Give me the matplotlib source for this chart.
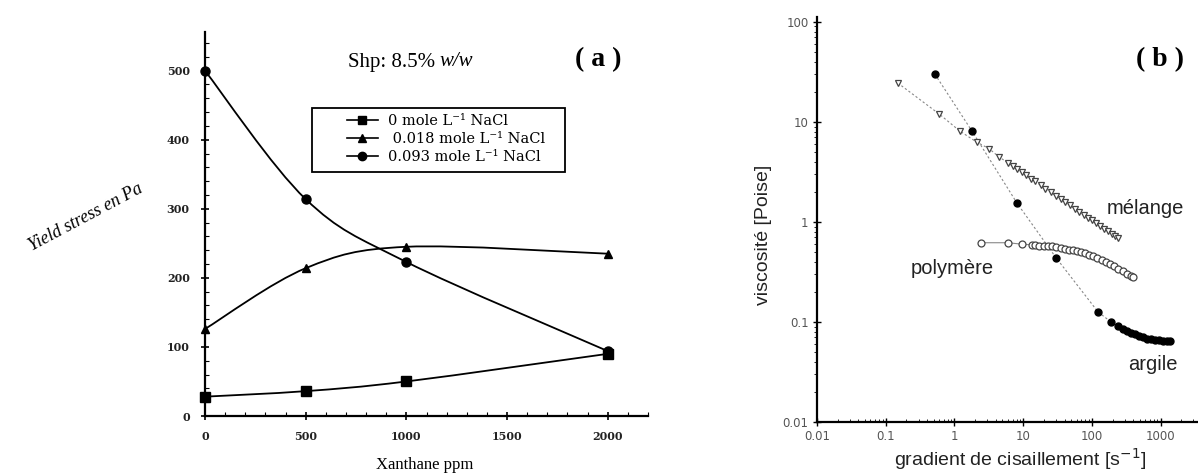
import matplotlib
matplotlib.use("Agg")
import matplotlib.pyplot as plt
import numpy as np
from matplotlib.path import Path
from matplotlib.patches import PathPatch, Rectangle
from matplotlib.lines import Line2D

# ---------------- Panel (a) data ----------------
xanthane = [0, 500, 1000, 2000]
ys_0 = [28, 36, 50, 90]
ys_018 = [126, 214, 245, 235]
ys_093 = [500, 314, 223, 94]
labels_a = ["0 mole L⁻¹ NaCl", " 0.018 mole L⁻¹ NaCl", "0.093 mole L⁻¹ NaCl"]
markers_a = ["s", "^", "o"]

# ---------------- Panel (b) data ----------------
argile_x = [0.52, 1.8, 8.1, 30, 123, 190, 240, 280, 320, 370, 420, 480, 550, 630,
            720, 820, 940, 1070, 1220, 1380]
argile_y = [30, 8.1, 1.55, 0.44, 0.126, 0.10, 0.091, 0.086, 0.082, 0.078, 0.075, 0.072,
            0.070, 0.068, 0.067, 0.066, 0.066, 0.065, 0.065, 0.065]
poly_x = [2.4, 6.0, 9.5, 13.5, 15, 17, 20, 23, 26, 30, 35, 40, 46, 53, 60, 70, 80, 92,
          105, 120, 140, 160, 185, 210, 240, 280, 320, 370, 390]
poly_y = [0.62, 0.62, 0.60, 0.59, 0.59, 0.58, 0.58, 0.57, 0.57, 0.56, 0.55, 0.54, 0.53,
          0.52, 0.51, 0.50, 0.49, 0.47, 0.46, 0.44, 0.42, 0.40, 0.38, 0.36, 0.34, 0.32,
          0.30, 0.285, 0.28]
mel_x = [0.15, 0.6, 1.2, 2.1, 3.2, 4.4, 6.0, 7, 8, 9.5, 11, 13, 15, 18, 21, 25, 30, 35,
         41, 48, 56, 65, 76, 88, 100, 115, 130, 150, 170, 195, 220, 240]
mel_y = [24.5, 12, 8.1, 6.3, 5.4, 4.5, 3.9, 3.63, 3.41, 3.14, 2.93, 2.71, 2.54, 2.33,
         2.16, 1.99, 1.83, 1.70, 1.58, 1.47, 1.36, 1.27, 1.18, 1.10, 1.04, 0.97, 0.92,
         0.86, 0.81, 0.76, 0.72, 0.69]

W, H = 1198, 473
fig = plt.figure(figsize=(W / 100, H / 100), dpi=100)

def px_axes(l, t, r, b):
    return fig.add_axes([l / W, 1 - b / H, (r - l) / W, (b - t) / H])

serif = "Liberation Serif"

# ---------------- Panel (a) ----------------
ax = px_axes(205, 32, 648, 416)
ax.set_xlim(0, 2200)
ax.set_ylim(0, 556)
for s in ["top", "right"]:
    ax.spines[s].set_visible(False)
for s in ["left", "bottom"]:
    ax.spines[s].set_linewidth(1.6)
ax.set_xticks([0, 500, 1000, 1500, 2000])
ax.set_yticks([0, 100, 200, 300, 400, 500])
ax.set_xticks(np.arange(0, 2201, 100), minor=True)
ax.set_yticks(np.arange(0, 556, 20), minor=True)
ax.tick_params(which="major", direction="inout", length=6, width=1.2, labelsize=8, pad=8)
ax.tick_params(which="minor", direction="in", length=3, width=0.8)
for lab in ax.get_xticklabels() + ax.get_yticklabels():
    lab.set_fontfamily("DejaVu Serif")
    lab.set_fontweight("bold")
    lab.set_color("#222222")

def smooth_path(xs, ys):
    pts = np.column_stack([xs, ys]).astype(float)
    n = len(pts)
    verts = [pts[0]]
    codes = [Path.MOVETO]
    for i in range(n - 1):
        p0 = pts[i - 1] if i > 0 else pts[i]
        p1 = pts[i]
        p2 = pts[i + 1]
        p3 = pts[i + 2] if i + 2 < n else pts[i + 1]
        c1 = p1 + (p2 - p0) / 6.0
        c2 = p2 - (p3 - p1) / 6.0
        verts += [c1, c2, p2]
        codes += [Path.CURVE4] * 3
    return Path(verts, codes)

for ys, m, lab in zip([ys_0, ys_018, ys_093], markers_a, labels_a):
    ax.add_patch(PathPatch(smooth_path(xanthane, ys), fill=False, edgecolor="black", lw=1.3))
    ax.plot(xanthane, ys, ls="none", marker=m, color="black", ms=6.5 if m != "^" else 6, clip_on=False)

# legend: frame drawn separately to reproduce the empty margin left of the handles
fig.patches.append(Rectangle((312 / W, 1 - 172 / H), (565 - 312) / W, (172 - 108) / H,
                             transform=fig.transFigure, fill=False, edgecolor="black", lw=1.3))
handles = [Line2D([], [], color="black", lw=1.2, marker=m, ms=6) for m in markers_a]
leg = fig.legend(handles, labels_a, loc="upper left", bbox_to_anchor=(344 / W, 1 - 111 / H),
                 frameon=False, prop={"family": "DejaVu Serif", "size": 10.5},
                 handlelength=2.1, handletextpad=0.75, borderpad=0.2, labelspacing=0.28,
                 borderaxespad=0)

fig.text(440 / W, 1 - 62 / H, "Shp: 8.5% ", family=serif, fontsize=15, ha="right", va="center")
fig.text(440 / W, 1 - 62 / H, "w/w", family=serif, fontsize=15, style="italic", ha="left", va="center")
fig.text(598 / W, 1 - 60 / H, "( a )", family=serif, fontsize=20, fontweight="bold", ha="center", va="center")
fig.text(86 / W, 1 - 217 / H, "Yield stress en Pa", family=serif, fontsize=13, style="italic",
         rotation=28, ha="center", va="center")
fig.text(425 / W, 1 - 465 / H, "Xanthane ppm", family=serif, fontsize=12, ha="center", va="center")

# ---------------- Panel (b) ----------------
bx = px_axes(817, 17, 1198, 422)
bx.set_xscale("log")
bx.set_yscale("log")
bx.set_xlim(0.01, 3500)
bx.set_ylim(0.01, 112)
for s in ["top", "right"]:
    bx.spines[s].set_visible(False)
for s in ["left", "bottom"]:
    bx.spines[s].set_linewidth(1.6)
bx.set_xticks([0.01, 0.1, 1, 10, 100, 1000])
bx.set_xticklabels(["0.01", "0.1", "1", "10", "100", "1000"])
bx.set_yticks([0.01, 0.1, 1, 10, 100])
bx.set_yticklabels(["0.01", "0.1", "1", "10", "100"])
bx.tick_params(which="major", direction="inout", length=6, width=1.0, labelsize=8.5,
               labelcolor="#555555", pad=3)
bx.tick_params(which="minor", direction="in", length=2.5, width=0.6)
bx.tick_params(axis="y", which="minor", direction="out")

bx.plot(argile_x, argile_y, ls=(0, (2, 2)), lw=0.8, color="#888888", marker="o", ms=5,
        mfc="black", mec="black")
bx.plot(mel_x, mel_y, ls=(0, (2, 2)), lw=0.8, color="#888888", marker="v", ms=5,
        mfc="white", mec="#444444", mew=0.9)
bx.plot(poly_x, poly_y, ls="-", lw=0.8, color="#888888", marker="o", ms=5,
        mfc="white", mec="#444444", mew=0.9)

sans = "Liberation Sans"
fig.text(1145 / W, 1 - 208 / H, "mélange", family=sans, fontsize=14.5, ha="center", va="center", color="#222222")
fig.text(952 / W, 1 - 268 / H, "polymère", family=sans, fontsize=14.5, ha="center", va="center", color="#222222")
fig.text(1153 / W, 1 - 365 / H, "argile", family=sans, fontsize=14.5, ha="center", va="center", color="#222222")
fig.text(1160 / W, 1 - 60 / H, "( b )", family=serif, fontsize=20, fontweight="bold", ha="center", va="center")
fig.text(763 / W, 1 - 235 / H, "viscosité [Poise]", family=sans, fontsize=14, rotation=90,
         ha="center", va="center", color="#222222")
fig.text(1020 / W, 1 - 459 / H, "gradient de cisaillement [s$^{\\mathsf{-1}}$]", family=sans, fontsize=14,
         ha="center", va="center", color="#222222")

fig.savefig("out.png", dpi=100, facecolor="white")
